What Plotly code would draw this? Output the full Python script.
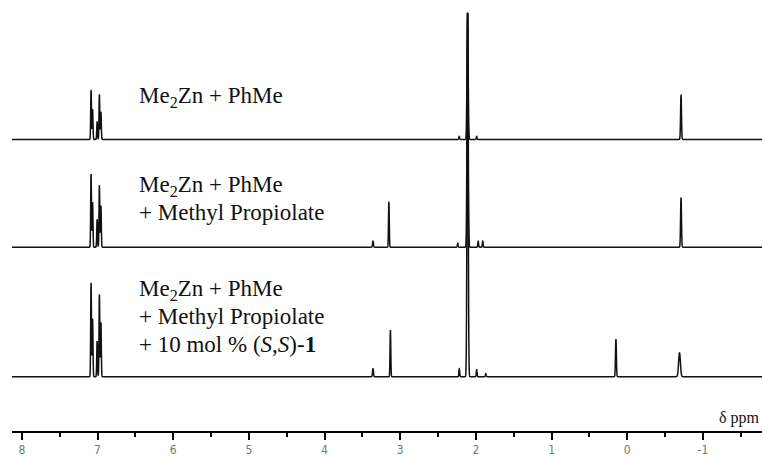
import numpy as np
import plotly.graph_objects as go

# ---- data: peak lists (ppm, height in px-units, FWHM in ppm) ----
top_ppm = [7.085, 7.065, 7.005, 6.975, 6.955, 2.22, 2.11, 1.99, -0.71]
top_h   = [50, 30, 18, 45, 28, 3, 128, 3, 45]
top_w   = [0.012, 0.012, 0.012, 0.012, 0.012, 0.012, 0.018, 0.012, 0.014]

mid_ppm = [7.085, 7.065, 7.005, 6.975, 6.955, 3.36, 3.15, 2.24, 2.11, 1.97, 1.91, -0.71]
mid_h   = [74, 45, 28, 62, 42, 6, 46, 4, 237, 6, 6, 50]
mid_w   = [0.012, 0.012, 0.012, 0.012, 0.012, 0.014, 0.012, 0.012, 0.018, 0.012, 0.012, 0.014]

bot_ppm = [7.085, 7.065, 7.005, 6.975, 6.955, 3.36, 3.13, 2.22, 2.11, 1.99, 1.87, 0.15, -0.69]
bot_h   = [95, 58, 36, 83, 55, 8, 47, 8, 368, 7, 3, 38, 24]
bot_w   = [0.012, 0.012, 0.012, 0.012, 0.012, 0.014, 0.012, 0.012, 0.018, 0.012, 0.012, 0.014, 0.028]

label_lines = [
    ["Me<sub>2</sub>Zn + PhMe"],
    ["Me<sub>2</sub>Zn + PhMe", "+ Methyl Propiolate"],
    ["Me<sub>2</sub>Zn + PhMe", "+ Methyl Propiolate", "+ 10 mol % (<i>S</i>,<i>S</i>)-<b>1</b>"],
]
tick_vals = [8, 7, 6, 5, 4, 3, 2, 1, 0, -1]
tick_text = ["8", "7", "6", "5", "4", "3", "2", "1", "0", "-1"]
minor_vals = [7.5, 6.5, 5.5, 4.5, 3.5, 2.5, 1.5, 0.5, -0.5, -1.5]

# ---- layout constants (pixel positions) ----
W, H = 762, 457
ML, MB = 12, 21
X_LEFT, X_RIGHT = 8.13, -1.78
Y_MAX = H - MB
baselines_px = [141, 250, 381]
label_px = [[98], [188, 215], [293, 320, 348]]
LABEL_X = 137
SERIF = "Liberation Serif, Times New Roman, serif"

x = np.linspace(X_LEFT, X_RIGHT, 12000)

def spectrum(ppm, h, w, base):
    y = np.full_like(x, float(base))
    for p, hh, ww in zip(ppm, h, w):
        sig = ww / 2.3548
        y += hh * np.exp(-0.5 * ((x - p) / sig) ** 2)
    return y

fig = go.Figure()
for (p, h, w), bpx in zip([(top_ppm, top_h, top_w), (mid_ppm, mid_h, mid_w), (bot_ppm, bot_h, bot_w)], baselines_px):
    fig.add_trace(go.Scatter(x=x, y=spectrum(p, h, w, Y_MAX - bpx), mode="lines",
                             line=dict(color="#111111", width=1.5, simplify=False),
                             hoverinfo="skip", showlegend=False))

for lines, ys in zip(label_lines, label_px):
    for txt, ypx in zip(lines, ys):
        fig.add_annotation(x=(LABEL_X - ML) / (W - ML), xref="paper", y=Y_MAX - ypx, yref="y",
                           text=txt, showarrow=False, xanchor="left", yanchor="middle",
                           align="left", font=dict(family=SERIF, size=23, color="#111111"))

fig.add_annotation(x=1.0, xref="paper", y=Y_MAX - 423, yref="y", text="δ ppm",
                   showarrow=False, xanchor="right", yanchor="middle",
                   font=dict(family=SERIF, size=16, color="#111111"))

fig.update_layout(
    width=W, height=H,
    margin=dict(l=ML, r=0, t=0, b=MB, pad=0),
    paper_bgcolor="white", plot_bgcolor="white",
    xaxis=dict(range=[X_LEFT, X_RIGHT], showgrid=False, zeroline=False,
               showline=True, linecolor="black", linewidth=2,
               ticks="outside", ticklen=7, tickwidth=2, tickcolor="black",
               tickmode="array", tickvals=tick_vals, ticktext=tick_text,
               tickfont=dict(family="Liberation Sans Narrow, DejaVu Sans Condensed, sans-serif", size=12, color="#777777"),
               minor=dict(tickmode="array", tickvals=minor_vals, ticks="outside", ticklen=4,
                          tickwidth=2, tickcolor="black", showgrid=False)),
    yaxis=dict(range=[0, Y_MAX], visible=False, showgrid=False, zeroline=False),
)

fig.write_html("out.html", config={"displayModeBar": False},
               post_script="document.body.style.margin='0';document.body.style.padding='0';")
